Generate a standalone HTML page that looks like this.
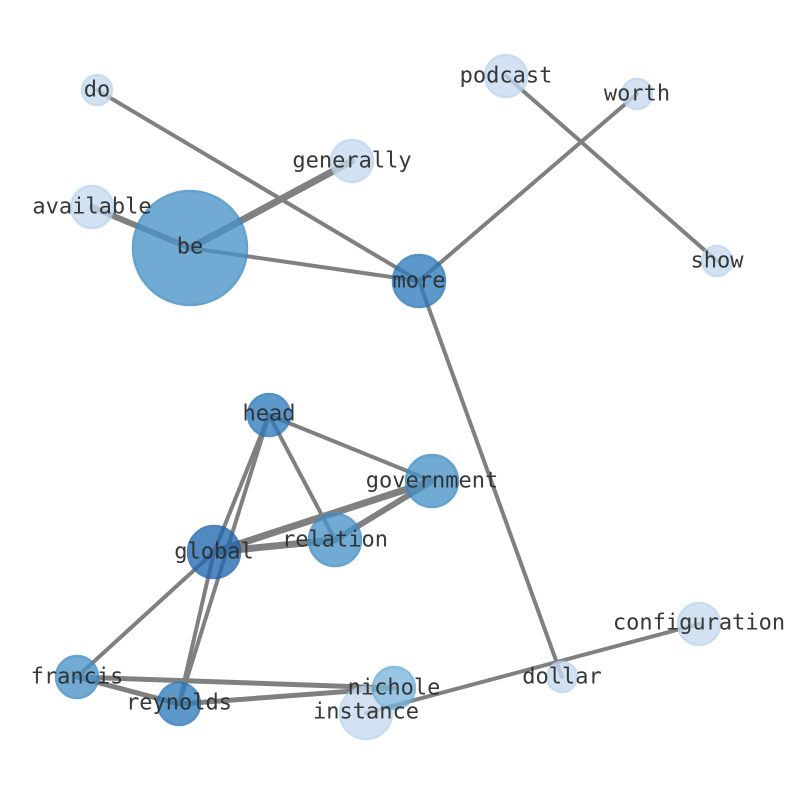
<!DOCTYPE html>
<html><head><style>body{margin:0;background:#fff}svg{display:block}</style></head><body>
<svg width="794" height="790" viewBox="0 0 794 790" xmlns="http://www.w3.org/2000/svg">
<g stroke="#808080" stroke-linecap="round" fill="none">
<line x1="97" y1="90" x2="419" y2="281" stroke-width="4"/>
<line x1="190" y1="248" x2="419" y2="281" stroke-width="4"/>
<line x1="92" y1="207" x2="190" y2="248" stroke-width="6"/>
<line x1="190" y1="248" x2="352" y2="161" stroke-width="7"/>
<line x1="419" y1="281" x2="637" y2="94" stroke-width="4"/>
<line x1="506" y1="76" x2="717" y2="261" stroke-width="4"/>
<line x1="419" y1="281" x2="562" y2="677" stroke-width="4"/>
<line x1="269" y1="415" x2="432" y2="481" stroke-width="4"/>
<line x1="269" y1="415" x2="335" y2="540" stroke-width="4"/>
<line x1="269" y1="415" x2="214" y2="552" stroke-width="4"/>
<line x1="269" y1="415" x2="179" y2="704" stroke-width="4"/>
<line x1="214" y1="552" x2="432" y2="481" stroke-width="7"/>
<line x1="214" y1="552" x2="335" y2="540" stroke-width="7"/>
<line x1="335" y1="540" x2="432" y2="481" stroke-width="6"/>
<line x1="214" y1="552" x2="179" y2="704" stroke-width="4"/>
<line x1="214" y1="552" x2="77" y2="677" stroke-width="4"/>
<line x1="77" y1="677" x2="179" y2="704" stroke-width="5"/>
<line x1="77" y1="677" x2="394" y2="688" stroke-width="5"/>
<line x1="179" y1="704" x2="394" y2="688" stroke-width="5"/>
<line x1="366" y1="713" x2="699" y2="624" stroke-width="4"/>
</g>
<g stroke-width="2.5" opacity="0.78">
<circle cx="97" cy="90" r="15" fill="#c6dbef" stroke="#b8d3ec"/>
<circle cx="506" cy="76" r="21" fill="#c6dbef" stroke="#b8d3ec"/>
<circle cx="637" cy="94" r="15" fill="#c6dbef" stroke="#b8d3ec"/>
<circle cx="352" cy="161" r="21" fill="#c6dbef" stroke="#b8d3ec"/>
<circle cx="92" cy="207" r="21" fill="#c6dbef" stroke="#b8d3ec"/>
<circle cx="190" cy="248" r="57" fill="#4a94c8" stroke="#3a88c4"/>
<circle cx="419" cy="281" r="26" fill="#2f7cbc" stroke="#2272b6"/>
<circle cx="717" cy="261" r="15" fill="#c6dbef" stroke="#b8d3ec"/>
<circle cx="269" cy="415" r="21" fill="#2f7cbc" stroke="#2272b6"/>
<circle cx="432" cy="481" r="26" fill="#4a94c8" stroke="#3a88c4"/>
<circle cx="214" cy="552" r="26" fill="#2268b0" stroke="#1c62ac"/>
<circle cx="335" cy="540" r="26" fill="#4a94c8" stroke="#3a88c4"/>
<circle cx="699" cy="624" r="21" fill="#c6dbef" stroke="#b8d3ec"/>
<circle cx="77" cy="677" r="21" fill="#4a94c8" stroke="#3a88c4"/>
<circle cx="562" cy="677" r="15" fill="#c6dbef" stroke="#b8d3ec"/>
<circle cx="366" cy="713" r="26" fill="#c6dbef" stroke="#b8d3ec"/>
<circle cx="394" cy="688" r="21" fill="#7cb6dc" stroke="#6aaad6"/>
<circle cx="179" cy="704" r="21" fill="#2f7cbc" stroke="#2272b6"/>
</g>
<g font-family="DejaVu Sans Mono, Liberation Mono, monospace" font-size="22" fill="#2e2e2e" text-anchor="middle" dominant-baseline="central" opacity="0.95">
<text x="97" y="90">do</text>
<text x="506" y="76">podcast</text>
<text x="637" y="94">worth</text>
<text x="352" y="161">generally</text>
<text x="92" y="207">available</text>
<text x="190" y="247">be</text>
<text x="419" y="281">more</text>
<text x="717" y="261">show</text>
<text x="269" y="414">head</text>
<text x="432" y="481">government</text>
<text x="214" y="552">global</text>
<text x="335" y="540">relation</text>
<text x="699" y="623">configuration</text>
<text x="77" y="677">francis</text>
<text x="562" y="677">dollar</text>
<text x="366" y="712">instance</text>
<text x="394" y="688">nichole</text>
<text x="179" y="703">reynolds</text>
</g>
</svg>
</body></html>
